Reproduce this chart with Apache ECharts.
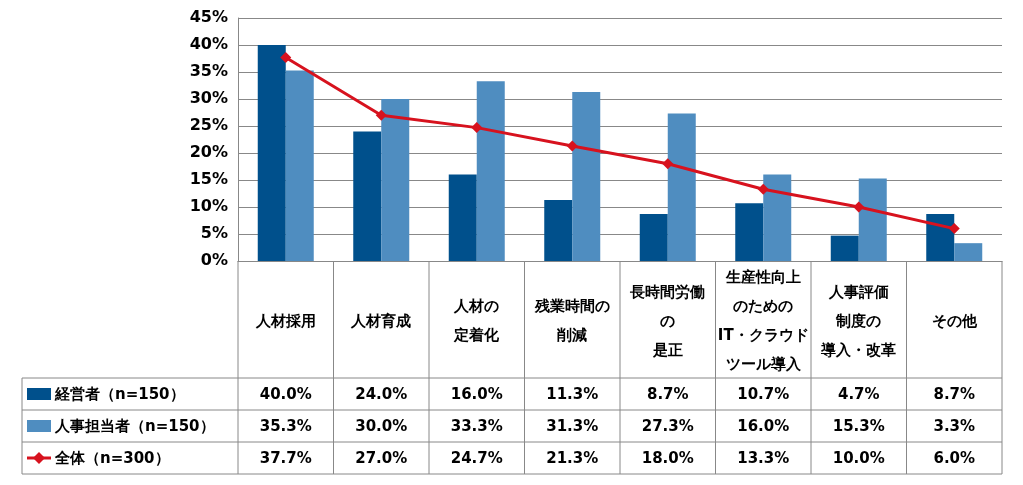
<!DOCTYPE html><html><head><meta charset="utf-8">
<script src="https://cdn.jsdelivr.net/npm/echarts@6/dist/echarts.min.js"></script>
<style>html,body{margin:0;padding:0;background:#fff}#c{width:1023px;height:485px}</style></head><body>
<div id="c"></div>
<script>
const categories=['人材採用','人材育成','人材の\n定着化','残業時間の\n削減','長時間労働\nの\n是正','生産性向上\nのための\nIT・クラウド\nツール導入','人事評価\n制度の\n導入・改革','その他'];
const seriesNames=['経営者（n=150）','人事担当者（n=150）','全体（n=300）'];
const keieisha=[40.0,24.0,16.0,11.3,8.7,10.7,4.7,8.7];
const jinji=[35.3,30.0,33.3,31.3,27.3,16.0,15.3,3.3];
const zentai=[37.7,27.0,24.7,21.3,18.0,13.3,10.0,6.0];
const yTicks=[0,5,10,15,20,25,30,35,40,45];
const colors=['#00508C','#4F8DC0','#D7121E'];
const font='"DejaVu Sans", Verdana, sans-serif';
const chart=echarts.init(document.getElementById('c'));
chart.setOption({
  animation:false,
  grid:{left:238,right:21,top:18,bottom:224},
  xAxis:{type:'category',data:categories,axisLabel:{show:false},axisTick:{show:false},axisLine:{lineStyle:{color:'#888'}}},
  yAxis:{type:'value',min:0,max:45,interval:5,axisLine:{show:true,lineStyle:{color:'#888'}},
    axisLabel:{formatter:v=>v+'%',color:'#000',fontFamily:font,fontWeight:'bold',fontSize:16,margin:10},
    splitLine:{lineStyle:{color:'#888'}}},
  series:[
    {name:seriesNames[0],type:'bar',data:keieisha,barWidth:28,barGap:'0%',itemStyle:{color:colors[0]}},
    {name:seriesNames[1],type:'bar',data:jinji,barWidth:28,itemStyle:{color:colors[1]}},
    {name:seriesNames[2],type:'line',data:zentai,symbol:'diamond',symbolSize:11,lineStyle:{color:colors[2],width:3},itemStyle:{color:colors[2]}}
  ]
});
const rowsY=[378,410,442,474];
const x0=chart.convertToPixel({xAxisIndex:0},0), x1=chart.convertToPixel({xAxisIndex:0},1);
const cw=x1-x0, left=x0-cw/2, right=left+cw*categories.length;
const g=[];
const ln=(a,b,c,d)=>g.push({type:'line',shape:{x1:a,y1:b,x2:c,y2:d},style:{stroke:'#888',lineWidth:1},z:10});
rowsY.forEach(y=>ln(22,y,right,y));
for(let i=0;i<=categories.length;i++){const x=left+cw*i;ln(x,261,x,474);}
ln(22,378,22,474);
const txt=(x,y,t,al)=>g.push({type:'text',x:x,y:y,style:{text:t,textAlign:al||'center',textVerticalAlign:'middle',font:'bold 15px '+font,fill:'#000',lineHeight:29},z:11});
categories.forEach((c,i)=>{const cx=chart.convertToPixel({xAxisIndex:0},i);txt(cx,322,c);
  [keieisha,jinji,zentai].forEach((arr,r)=>txt(cx,(rowsY[r]+rowsY[r+1])/2+1,arr[i].toFixed(1)+'%'));});
seriesNames.forEach((n,r)=>{const cy=(rowsY[r]+rowsY[r+1])/2;
  if(r<2)g.push({type:'rect',shape:{x:27,y:cy-6,width:24,height:12},style:{fill:colors[r]},z:11});
  else{g.push({type:'line',shape:{x1:27,y1:cy,x2:51,y2:cy},style:{stroke:colors[2],lineWidth:3},z:11});
    g.push({type:'polygon',shape:{points:[[39,cy-6],[45,cy],[39,cy+6],[33,cy]]},style:{fill:colors[2]},z:12});}
  txt(55,cy+1,n,'left');});
chart.setOption({graphic:g});
</script></body></html>
